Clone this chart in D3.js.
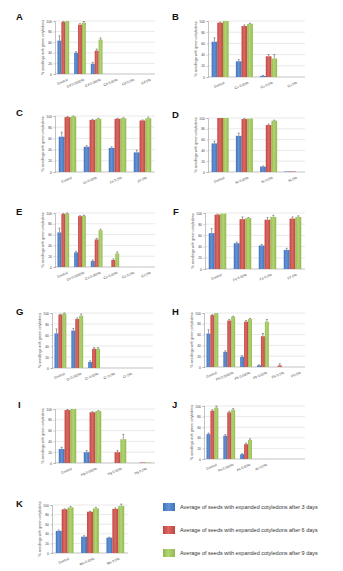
<!DOCTYPE html>
<html>
<head>
<meta charset="utf-8">
<script src="https://cdn.jsdelivr.net/npm/d3@7"></script>
<style>
  html, body { margin: 0; padding: 0; background: #ffffff; }
  svg { display: block; }
</style>
</head>
<body>
<svg id="chart" width="343" height="571"></svg>
<script>
// ---- shared labels ----
const seriesNames = [
  "Average of seeds with expanded cotyledons after 3 days",
  "Average of seeds with expanded cotyledons after 6 days",
  "Average of seeds with expanded cotyledons after 9 days"
];
const yTicks = [0, 20, 40, 60, 80, 100];
const yTitle = "% seedlings with green cotyledons";

// ---- panel A ----
const catsA = ["Control", "Cd 0.0005%", "Cd 0.005%", "Cd 0.05%", "Cd 0.5%", "Cd 5%"];
const day3A = [63, 40, 19, 0, 0, 0];
const day6A = [98, 93, 44, 0, 0, 0];
const day9A = [100, 97, 65, 0, 0, 0];
const err3A = [9, 2, 3, 0, 0, 0];
const err6A = [1, 2, 3, 0, 0, 0];
const err9A = [0, 2, 3, 0, 0, 0];

// ---- panel B ----
const catsB = ["Control", "Cu 0.05%", "Cu 0.5%", "Cu 5%"];
const day3B = [63, 28, 2, 0];
const day6B = [97, 91, 37, 0];
const day9B = [100, 95, 33, 0];
const err3B = [7, 3, 1, 0];
const err6B = [1, 2, 3, 0];
const err9B = [0, 1, 7, 0];

// ---- panel C ----
const catsC = ["Control", "Zn 0.05%", "Zn 0.5%", "Zn 5%"];
const day3C = [63, 45, 43, 35];
const day6C = [98, 93, 95, 92];
const day9C = [99, 95, 96, 96];
const err3C = [8, 2, 2, 4];
const err6C = [1, 1, 1, 1];
const err9C = [1, 1, 1, 2];

// ---- panel D ----
const catsD = ["Control", "Ni 0.05%", "Ni 0.5%", "Ni 5%"];
const day3D = [53, 67, 10, 1];
const day6D = [100, 98, 87, 1];
const day9D = [100, 99, 95, 0];
const err3D = [4, 5, 1, 0];
const err6D = [0, 1, 2, 0];
const err9D = [0, 0, 1, 0];

// ---- panel E ----
const catsE = ["Control", "Co 0.0005%", "Co 0.005%", "Co 0.05%", "Co 0.5%", "Co 5%"];
const day3E = [64, 27, 11, 0, 0, 0];
const day6E = [98, 94, 51, 13, 0, 0];
const day9E = [99, 95, 68, 25, 0, 0];
const err3E = [8, 2, 2, 0, 0, 0];
const err6E = [1, 1, 2, 2, 0, 0];
const err9E = [1, 1, 2, 3, 0, 0];

// ---- panel F ----
const catsF = ["Control", "Fe 0.05%", "Fe 0.5%", "Fe 5%"];
const day3F = [64, 46, 42, 34];
const day6F = [97, 89, 88, 90];
const day9F = [99, 91, 93, 93];
const err3F = [8, 2, 2, 3];
const err6F = [1, 4, 4, 3];
const err9F = [0, 1, 3, 2];

// ---- panel G ----
const catsG = ["Control", "Cr 0.005%", "Cr 0.05%", "Cr 0.5%", "Cr 5%", ""];
const day3G = [63, 68, 11, 0, 0, 0];
const day6G = [97, 89, 35, 0, 0, 0];
const day9G = [99, 95, 35, 0, 0, 0];
const err3G = [8, 4, 2, 0, 0, 0];
const err6G = [1, 2, 2, 0, 0, 0];
const err9G = [1, 3, 2, 0, 0, 0];

// ---- panel H ----
const catsH = ["Control", "Pb 0.0005%", "Pb 0.005%", "Pb 0.05%", "Pb 0.5%", "Pb 5%"];
const day3H = [62, 28, 19, 3, 0, 0];
const day6H = [96, 86, 84, 57, 3, 0];
const day9H = [100, 93, 89, 84, 0, 0];
const err3H = [7, 2, 2, 1, 0, 0];
const err6H = [1, 2, 2, 5, 3, 0];
const err9H = [0, 1, 1, 4, 0, 0];

// ---- panel I ----
const catsI = ["Control", "Hg 0.005%", "Hg 0.05%", "Hg 0.5%"];
const day3I = [26, 20, 0, 0];
const day6I = [98, 94, 20, 1];
const day9I = [100, 96, 44, 1];
const err3I = [3, 3, 0, 0];
const err6I = [1, 1, 3, 0];
const err9I = [0, 1, 9, 0];

// ---- panel J ----
const catsJ = ["Control", "As 0.005%", "As 0.05%", "As 0.5%", "", ""];
const day3J = [47, 44, 9, 0, 0, 0];
const day6J = [91, 88, 28, 0, 0, 0];
const day9J = [97, 93, 36, 0, 0, 0];
const err3J = [2, 2, 1, 0, 0, 0];
const err6J = [2, 2, 2, 0, 0, 0];
const err9J = [3, 2, 2, 0, 0, 0];

// ---- panel K ----
const catsK = ["Control", "Mn 0.05%", "Mn 0.5%"];
const day3K = [46, 34, 32];
const day6K = [91, 86, 92];
const day9K = [95, 93, 98];
const err3K = [2, 2, 1];
const err6K = [1, 1, 2];
const err9K = [2, 2, 4];

// ---- panel layout (plot rectangles) ----
const panels = [
  { id: "A", cats: catsA, vals: [day3A, day6A, day9A], errs: [err3A, err6A, err9A], x0: 55,  x1: 155, top: 21,  base: 74,  lx: 16,  ly: 20 },
  { id: "B", cats: catsB, vals: [day3B, day6B, day9B], errs: [err3B, err6B, err9B], x0: 208, x1: 305, top: 21,  base: 77,  lx: 172, ly: 20 },
  { id: "C", cats: catsC, vals: [day3C, day6C, day9C], errs: [err3C, err6C, err9C], x0: 55,  x1: 155, top: 116, base: 172, lx: 16,  ly: 116 },
  { id: "D", cats: catsD, vals: [day3D, day6D, day9D], errs: [err3D, err6D, err9D], x0: 208, x1: 305, top: 118, base: 172, lx: 172, ly: 118 },
  { id: "E", cats: catsE, vals: [day3E, day6E, day9E], errs: [err3E, err6E, err9E], x0: 55,  x1: 155, top: 213, base: 267, lx: 16,  ly: 215 },
  { id: "F", cats: catsF, vals: [day3F, day6F, day9F], errs: [err3F, err6F, err9F], x0: 205, x1: 305, top: 213, base: 269, lx: 173, ly: 215 },
  { id: "G", cats: catsG, vals: [day3G, day6G, day9G], errs: [err3G, err6G, err9G], x0: 52,  x1: 153, top: 313, base: 368, lx: 16,  ly: 315 },
  { id: "H", cats: catsH, vals: [day3H, day6H, day9H], errs: [err3H, err6H, err9H], x0: 204, x1: 305, top: 313, base: 367, lx: 172, ly: 315 },
  { id: "I", cats: catsI, vals: [day3I, day6I, day9I], errs: [err3I, err6I, err9I], x0: 55,  x1: 155, top: 409, base: 463, lx: 18,  ly: 408 },
  { id: "J", cats: catsJ, vals: [day3J, day6J, day9J], errs: [err3J, err6J, err9J], x0: 204, x1: 305, top: 406, base: 459, lx: 172, ly: 408 },
  { id: "K", cats: catsK, vals: [day3K, day6K, day9K], errs: [err3K, err6K, err9K], x0: 52,  x1: 128, top: 505, base: 553, lx: 16,  ly: 507 }
];

const colors = ["#3f72bd", "#c0443f", "#93b94e"];
const colorsLight = ["#6393d4", "#da6a65", "#b2d475"];

const svg = d3.select("#chart");
const defs = svg.append("defs");
colors.forEach((c, i) => {
  const g = defs.append("linearGradient")
    .attr("id", "grad" + i).attr("x1", "0%").attr("x2", "100%").attr("y1", "0%").attr("y2", "0%");
  g.append("stop").attr("offset", "0%").attr("stop-color", c);
  g.append("stop").attr("offset", "45%").attr("stop-color", colorsLight[i]);
  g.append("stop").attr("offset", "100%").attr("stop-color", c);
});

panels.forEach(p => {
  const g = svg.append("g");

  const x = d3.scaleBand().domain(d3.range(p.cats.length))
    .range([p.x0, p.x1]).paddingInner(0.3).paddingOuter(0.15);
  const xs = d3.scaleBand().domain([0, 1, 2]).range([0, x.bandwidth()]).padding(0);
  const y = d3.scaleLinear().domain([0, 100]).range([p.base, p.top]);

  // gridlines
  g.append("g").selectAll("line").data(yTicks.filter(t => t > 0)).join("line")
    .attr("x1", p.x0).attr("x2", p.x1)
    .attr("y1", d => y(d)).attr("y2", d => y(d))
    .attr("stroke", "#dadada").attr("stroke-width", 0.6);

  // y axis
  const yAxis = d3.axisLeft(y).tickValues(yTicks).tickSize(1.5).tickPadding(1.5);
  const ya = g.append("g").attr("transform", `translate(${p.x0},0)`).call(yAxis);
  ya.select(".domain").attr("stroke", "#9a9a9a").attr("stroke-width", 0.6);
  ya.selectAll(".tick line").attr("stroke", "#9a9a9a").attr("stroke-width", 0.5);
  ya.selectAll("text").attr("font-size", 3.4).attr("font-family", "Arial, 'Liberation Sans', sans-serif").attr("fill", "#444");

  // y title
  g.append("text")
    .attr("transform", `translate(${p.x0 - 11},${(p.top + p.base) / 2}) rotate(-90)`)
    .attr("text-anchor", "middle")
    .attr("font-size", 3.6).attr("font-family", "Arial, 'Liberation Sans', sans-serif").attr("fill", "#444")
    .text(yTitle);

  // x axis
  const xAxis = d3.axisBottom(x).tickSize(0).tickFormat(i => p.cats[i]);
  const xa = g.append("g").attr("transform", `translate(0,${p.base})`).call(xAxis);
  xa.select(".domain").attr("stroke", "#9a9a9a").attr("stroke-width", 0.6)
    .attr("d", `M${p.x0},0H${p.x1}`);
  xa.selectAll("text")
    .attr("font-size", 3.4).attr("font-family", "Arial, 'Liberation Sans', sans-serif").attr("fill", "#444")
    .attr("text-anchor", "end")
    .attr("transform", "translate(3,3) rotate(-22)")
    .attr("dy", "0.3em");

  // bars
  p.vals.forEach((series, si) => {
    g.append("g").selectAll("rect").data(series).join("rect")
      .attr("x", (d, i) => x(i) + xs(si))
      .attr("width", xs.bandwidth())
      .attr("y", d => y(d))
      .attr("height", d => p.base - y(d))
      .attr("fill", `url(#grad${si})`);
  });

  // error bars
  p.vals.forEach((series, si) => {
    const e = p.errs[si];
    const eg = g.append("g");
    series.forEach((v, i) => {
      if (e[i] <= 0) return;
      const cx = x(i) + xs(si) + xs.bandwidth() / 2;
      eg.append("line").attr("x1", cx).attr("x2", cx)
        .attr("y1", y(v)).attr("y2", y(v + e[i]))
        .attr("stroke", "#333").attr("stroke-width", 0.45);
      eg.append("line").attr("x1", cx - 1).attr("x2", cx + 1)
        .attr("y1", y(v + e[i])).attr("y2", y(v + e[i]))
        .attr("stroke", "#333").attr("stroke-width", 0.45);
    });
  });

  // panel letter
  svg.append("text").attr("x", p.lx).attr("y", p.ly)
    .attr("font-size", 9.5).attr("font-weight", "bold")
    .attr("font-family", "Arial, 'Liberation Sans', sans-serif").attr("fill", "#111")
    .text(p.id);
});

// legend
const legend = svg.append("g");
const legendY = d3.scalePoint().domain(d3.range(seriesNames.length)).range([507, 553]);
seriesNames.forEach((name, i) => {
  legend.append("rect").attr("x", 163).attr("y", legendY(i) - 4).attr("width", 12).attr("height", 8)
    .attr("fill", `url(#grad${i})`);
  legend.append("text").attr("x", 180).attr("y", legendY(i) + 1.9)
    .attr("font-size", 5.5).attr("font-family", "Arial, 'Liberation Sans', sans-serif").attr("fill", "#333")
    .text(name);
});
</script>
</body>
</html>
